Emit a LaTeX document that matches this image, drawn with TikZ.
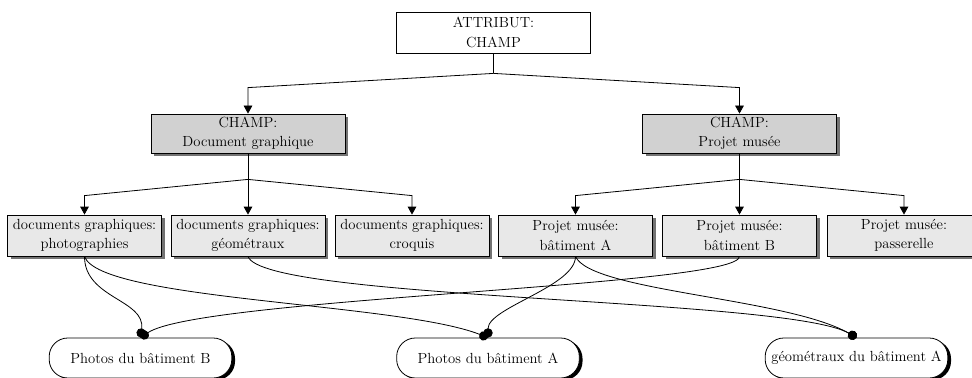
\documentclass[tikz,border=0pt]{standalone}
\usepackage{fontspec}
\usetikzlibrary{arrows.meta,shapes.misc,shadows,calc}
\definecolor{champgris}{gray}{0.82}
\definecolor{sousgris}{gray}{0.91}
\tikzset{
  boite/.style={draw,line width=0.6pt,align=center,inner sep=0pt,font=\fontsize{11}{14.5}\selectfont},
  ombre/.style={drop shadow={shadow xshift=2.4pt,shadow yshift=-2.4pt,fill=black!55,opacity=1}},
  attribut/.style={boite,fill=white,minimum width=146pt,minimum height=30.75pt},
  champ/.style={boite,ombre,fill=champgris,minimum width=145.5pt,minimum height=29.25pt},
  sous/.style={boite,ombre,fill=sousgris,minimum width=115.5pt,minimum height=30.75pt},
  doc/.style={boite,fill=white,rounded corners=14pt,minimum width=137pt,minimum height=30pt,
    drop shadow={shadow xshift=2.4pt,shadow yshift=-1.5pt,fill=black,opacity=1}},
  fleche/.style={-{Triangle[length=6pt,width=6.5pt]},line width=0.6pt},
  lien/.style={-{Circle[length=7pt]},line width=0.6pt}
}
\begin{document}
\begin{tikzpicture}[x=0.75pt,y=-0.75pt]
\useasboundingbox (0,0) rectangle (972,378);
% niveaux
\node[attribut] (attr) at (493.5,32.5) {ATTRIBUT:\\CHAMP};
\node[champ] (champG) at (248,133.5) {CHAMP:\\Document graphique};
\node[champ] (champP) at (739.5,133.5) {CHAMP:\\Projet musée};
\node[sous] (photo) at (84.5,235.5) {documents graphiques:\\photographies};
\node[sous] (geo) at (248,235.5) {documents graphiques:\\géométraux};
\node[sous] (croq) at (412,235.5) {documents graphiques:\\croquis};
\node[sous] (batA) at (575.5,235.5) {Projet musée:\\bâtiment A};
\node[sous] (batB) at (739.5,235.5) {Projet musée:\\bâtiment B};
\node[sous] (pass) at (904,235.5) {Projet musée:\\passerelle};
\node[doc] (phB) at (140.5,358) {Photos du bâtiment B};
\node[doc] (phA) at (488,358) {Photos du bâtiment A};
\node[doc] (geoA) at (856.5,358) {géométraux du bâtiment A};
% arbre
\draw[line width=0.6pt] (attr.south) -- ++(0,20) coordinate (jA);
\draw[fleche] (jA) -- ($(champG.north)+(0,-26)$) -- (champG.north);
\draw[fleche] (jA) -- ($(champP.north)+(0,-26)$) -- (champP.north);
\draw[line width=0.6pt] (champG.south) -- ++(0,26) coordinate (jG);
\draw[fleche] (jG) -- ($(photo.north)+(0,-19)$) -- (photo.north);
\draw[fleche] (jG) -- (geo.north);
\draw[fleche] (jG) -- ($(croq.north)+(0,-19)$) -- (croq.north);
\draw[line width=0.6pt] (champP.south) -- ++(0,26) coordinate (jP);
\draw[fleche] (jP) -- ($(batA.north)+(0,-19)$) -- (batA.north);
\draw[fleche] (jP) -- (batB.north);
\draw[fleche] (jP) -- ($(pass.north)+(0,-19)$) -- (pass.north);
% liens vers les documents
\draw[lien] (photo.south) .. controls +(0,42) and +(5,-38) .. (phB.north);
\draw[lien] (photo.south) .. controls +(15,44) and +(-90,-35) .. (phA.north);
\draw[lien] (geo.south) .. controls +(15,44) and +(-70,-40) .. (geoA.north);
\draw[lien] (batA.south) .. controls +(0,30) and +(0,-30) .. (phA.north);
\draw[lien] (batA.south) .. controls +(15,35) and +(-70,-40) .. (geoA.north);
\draw[lien] (batB.south) .. controls +(0,30) and +(60,-40) .. (phB.north);
\end{tikzpicture}
\end{document}
